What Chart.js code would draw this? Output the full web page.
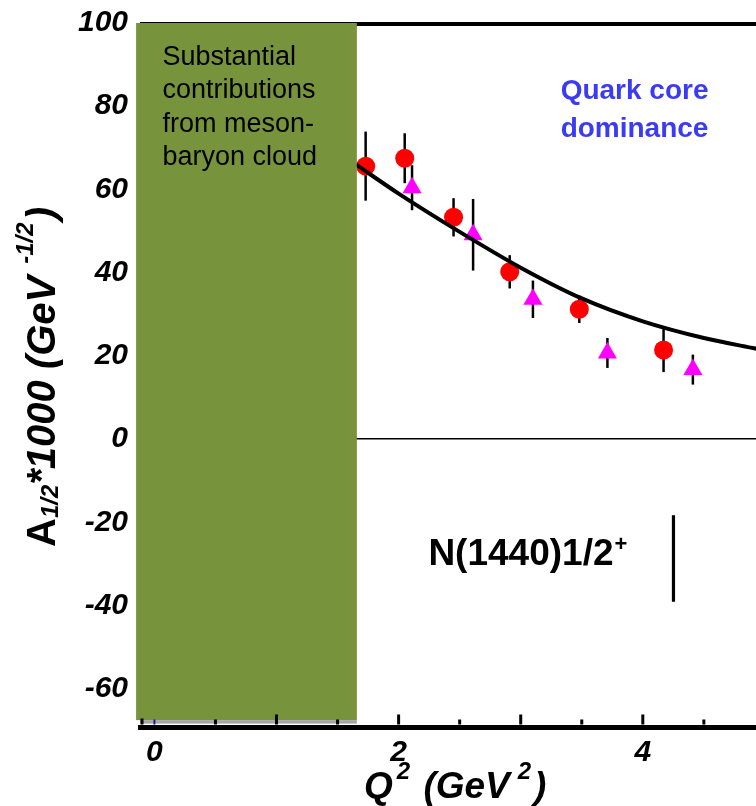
<!DOCTYPE html>
<html><head><meta charset="utf-8">
<script src="https://cdn.jsdelivr.net/npm/chart.js@4.4.1/dist/chart.umd.min.js"></script>
<style>html,body{margin:0;padding:0;background:#fff;}#wrap{width:756px;height:806px;position:relative;}</style>
</head><body><div id="wrap"><canvas id="c" width="756" height="806"></canvas></div>
<script>
// ---- data ----
const xTickValues = [0, 2, 4];
const xMinorTickValues = [0, 0.5, 1, 1.5, 2, 2.5, 3, 3.5, 4, 4.5];
const yTickValues = [-60, -40, -20, 0, 20, 40, 60, 80, 100];

const circleQ2  = [1.73, 2.05, 2.45, 2.91, 3.48, 4.17];
const circleA   = [65.6, 67.5, 53.3, 40.2, 31.2, 21.4];
const circleErr = [8.3, 6.0, 4.6, 4.0, 3.3, 5.3];

const triangleQ2  = [2.11, 2.61, 3.10, 3.71, 4.41];
const triangleA   = [60.4, 49.1, 33.6, 20.7, 16.7];
const triangleErr = [5.4, 8.6, 4.5, 3.6, 3.6];

const curveQ2 = [1.65, 2.0, 2.5, 3.0, 3.5, 4.0, 4.5, 4.95];
const curveA  = [66.0, 59.0, 49.8, 41.2, 33.8, 28.3, 24.3, 21.6];

// shaded region (meson-baryon cloud) in data units
const cloudQ2Range = [-0.15, 1.658];
const cloudARange  = [-67.55, 100];

const cloudText = ['Substantial', 'contributions', 'from meson-', 'baryon cloud'];
const coreText  = ['Quark core', 'dominance'];
const stateMain = 'N(1440)1/2';
const stateSup  = '+';

const FONT = '"Liberation Sans", Arial, sans-serif';

function pts(xs, ys) { return xs.map((v, i) => ({x: v, y: ys[i]})); }

function richText(ctx, parts, x, y) {
  let cx = x;
  for (const p of parts) {
    ctx.font = `${p.style || ''} bold ${p.size}px ${FONT}`;
    cx += (p.pre || 0);
    ctx.fillText(p.t, cx, y + (p.dy || 0));
    cx += ctx.measureText(p.t).width;
  }
}

function noPad(s) { s.paddingTop = 0; s.paddingBottom = 0; s.paddingLeft = 0; s.paddingRight = 0; }

const decor = {
  id: 'decor',
  beforeDatasetsDraw(chart) {
    const {ctx, chartArea: a, scales: {x, y}} = chart;
    ctx.save();
    ctx.strokeStyle = '#000';
    ctx.lineWidth = 4;
    ctx.beginPath(); ctx.moveTo(a.left, a.top + 1); ctx.lineTo(a.right, a.top + 1); ctx.stroke();
    ctx.lineWidth = 2.5;
    const bars = (xs, ys, es) => xs.forEach((q, i) => {
      const px = x.getPixelForValue(q);
      ctx.beginPath();
      ctx.moveTo(px, y.getPixelForValue(ys[i] + es[i]));
      ctx.lineTo(px, y.getPixelForValue(ys[i] - es[i]));
      ctx.stroke();
    });
    bars(circleQ2, circleA, circleErr);
    bars(triangleQ2, triangleA, triangleErr);
    ctx.restore();
  },
  afterDatasetsDraw(chart) {
    const {ctx, chartArea: a, scales: {x, y}} = chart;
    ctx.save();
    const gx0 = x.getPixelForValue(cloudQ2Range[0]);
    const gx1 = x.getPixelForValue(cloudQ2Range[1]);
    const gy0 = y.getPixelForValue(cloudARange[1]);
    const gy1 = y.getPixelForValue(cloudARange[0]);
    ctx.fillStyle = '#77933C';
    ctx.fillRect(gx0, gy0, gx1 - gx0, gy1 - gy0);
    ctx.fillStyle = '#a6a6a6';
    ctx.fillRect(gx0 + 4, gy1, gx1 - gx0 - 4, 3.5);

    const base = a.bottom - 2.5;
    xMinorTickValues.forEach(v => {
      const px = x.getPixelForValue(v);
      const major = (v !== 0 && Number.isInteger(v));
      ctx.strokeStyle = v === 0 ? '#1a1aa0' : '#000';
      ctx.lineWidth = v === 0 ? 2 : 3;
      ctx.beginPath(); ctx.moveTo(px, base); ctx.lineTo(px, base - (major ? 10 : 5)); ctx.stroke();
    });
    ctx.strokeStyle = '#000';
    ctx.lineWidth = 3;
    ctx.beginPath(); ctx.moveTo(a.left + 2, base); ctx.lineTo(a.left + 2, base - 6); ctx.stroke();

    ctx.fillStyle = '#000';
    ctx.textBaseline = 'alphabetic';
    ctx.textAlign = 'left';
    ctx.font = `27px ${FONT}`;
    const tx = x.getPixelForValue(0.066);
    const ty = y.getPixelForValue(89.9);
    cloudText.forEach((s, i) => ctx.fillText(s, tx, ty + i * 33.4));

    ctx.fillStyle = '#3b3bf2';
    ctx.font = `bold 28px ${FONT}`;
    const qx = x.getPixelForValue(3.327);
    const qy = y.getPixelForValue(81.8);
    coreText.forEach((s, i) => ctx.fillText(s, qx, qy + i * 38));

    ctx.fillStyle = '#000';
    ctx.font = `bold 37px ${FONT}`;
    const sx = x.getPixelForValue(2.244);
    const sy = y.getPixelForValue(-30.3);
    ctx.fillText(stateMain, sx, sy);
    const w = ctx.measureText(stateMain).width;
    ctx.font = `bold 22px ${FONT}`;
    ctx.fillText(stateSup, sx + w + 1, sy - 14);

    ctx.lineWidth = 3.2;
    const lx = x.getPixelForValue(4.251);
    ctx.beginPath();
    ctx.moveTo(lx, y.getPixelForValue(-18.3));
    ctx.lineTo(lx, y.getPixelForValue(-39.1));
    ctx.stroke();

    ctx.fillStyle = '#000';
    richText(ctx, [
      {t: 'Q', size: 37, style: 'italic'},
      {t: '2', size: 24, style: 'italic', dy: -19, pre: 4},
      {t: ' (GeV', size: 37, style: 'italic', pre: 3},
      {t: '2', size: 24, style: 'italic', dy: -19, pre: 8},
      {t: ')', size: 37, style: 'italic', pre: 3}
    ], 364, 798);
    ctx.save();
    ctx.translate(55, 547);
    ctx.rotate(-Math.PI / 2);
    richText(ctx, [
      {t: 'A', size: 40},
      {t: '1/2', size: 24, style: 'italic', dy: 3},
      {t: '*1000 (GeV', size: 40, style: 'italic'},
      {t: '-1/2', size: 24, style: 'italic', dy: -22, pre: 12},
      {t: ')', size: 40, style: 'italic', pre: 2}
    ], 0, 0);
    ctx.restore();
    ctx.restore();
  }
};

new Chart(document.getElementById('c'), {
  type: 'scatter',
  data: {
    datasets: [
      {label: 'fit', data: pts(curveQ2, curveA), showLine: true, pointRadius: 0,
       borderColor: '#000', borderWidth: 4, cubicInterpolationMode: 'monotone', order: 0},
      {label: 'circles', data: pts(circleQ2, circleA), pointStyle: 'circle', pointRadius: 9.5,
       backgroundColor: '#ff0000', borderWidth: 0, order: 2},
      {label: 'triangles', data: pts(triangleQ2, triangleA), pointStyle: 'triangle', pointRadius: 11,
       backgroundColor: '#ff00ff', borderWidth: 0, order: 1}
    ]
  },
  options: {
    responsive: false,
    animation: false,
    devicePixelRatio: 1,
    layout: {autoPadding: false, padding: {top: 23, right: 0, bottom: 0, left: 0}},
    plugins: {legend: {display: false}, tooltip: {enabled: false}},
    scales: {
      x: {
        type: 'linear', min: -0.118, max: 4.927,
        afterBuildTicks: s => { s.ticks = xTickValues.map(v => ({value: v})); },
        afterFit: s => { s.height = 79; noPad(s); },
        grid: {display: false, drawTicks: false},
        border: {display: true, color: '#000', width: 5},
        ticks: {color: '#000', padding: 8, font: {family: FONT, size: 30, weight: 'bold', style: 'italic'},
                callback: v => String(v)}
      },
      y: {
        type: 'linear', min: -69.2, max: 100,
        afterBuildTicks: s => { s.ticks = yTickValues.map(v => ({value: v})); },
        afterFit: s => { s.width = 140; noPad(s); },
        grid: {drawTicks: false, lineWidth: 1.5,
               color: c => (c.tick && c.tick.value === 0) ? '#000' : 'rgba(0,0,0,0)'},
        border: {display: false},
        ticks: {color: '#000', padding: 12, font: {family: FONT, size: 30, weight: 'bold', style: 'italic'},
                callback: v => String(v)}
      }
    }
  },
  plugins: [decor]
});
</script></body></html>
